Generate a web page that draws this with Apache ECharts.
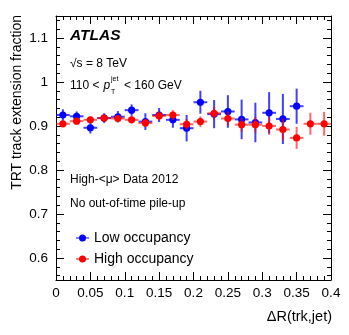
<!DOCTYPE html>
<html>
<head>
<meta charset="utf-8">
<script src="https://cdn.jsdelivr.net/npm/echarts@6/dist/echarts.min.js"></script>
<style>
  html, body { margin: 0; padding: 0; background: #fff; }
  #chart { width: 349px; height: 335px; }
</style>
</head>
<body>
<div id="chart"></div>
<script>
// bin centres in dR(trk,jet), bins are 0.02 wide
var binCenters = [0.01, 0.03, 0.05, 0.07, 0.09, 0.11, 0.13, 0.15, 0.17, 0.19,
                  0.21, 0.23, 0.25, 0.27, 0.29, 0.31, 0.33, 0.35, 0.37, 0.39];
var binHalfWidth = 0.01;

// low occupancy (blue) - first 18 bins
var lowValues = [0.925, 0.922, 0.896, 0.918, 0.921, 0.936, 0.910, 0.925, 0.914, 0.895,
                 0.954, 0.927, 0.933, 0.915, 0.908, 0.930, 0.916, 0.945];
var lowErrors = [0.013, 0.011, 0.013, 0.011, 0.013, 0.013, 0.019, 0.016, 0.018, 0.030,
                 0.026, 0.032, 0.037, 0.045, 0.045, 0.047, 0.057, 0.040];

// high occupancy (red) - all 20 bins
var highValues = [0.905, 0.911, 0.914, 0.918, 0.917, 0.914, 0.907, 0.923, 0.925, 0.904,
                  0.910, 0.929, 0.917, 0.903, 0.903, 0.900, 0.892, 0.873, 0.905, 0.905];
var highErrors = [0.007, 0.007, 0.007, 0.008, 0.008, 0.008, 0.009, 0.010, 0.011, 0.011,
                  0.012, 0.014, 0.016, 0.016, 0.018, 0.020, 0.025, 0.025, 0.025, 0.027];

var yLabelTicks = [0.6, 0.7, 0.8, 0.9, 1.0, 1.1];
var yMinorTicks = [];
for (var t = 56; t <= 114; t += 2) {
	if (t % 10 != 0) yMinorTicks.push(t / 100);
}

var FONT = '"Liberation Sans", Arial, Helvetica, sans-serif';

function makeData(vals, errs) {
	var out = [];
	for (var i = 0; i < vals.length; i++) {
		out.push([binCenters[i], vals[i], errs[i]]);
	}
	return out;
}

function errRenderer(color, barOpacity) {
	return function(params, api) {
		var x = api.value(0), y = api.value(1), e = api.value(2);
		var c = api.coord([x, y]);
		var lo = api.coord([x, y - e]);
		var hi = api.coord([x, y + e]);
		var l = api.coord([x - binHalfWidth, y]);
		var r = api.coord([x + binHalfWidth, y]);
		return {
			type: 'group',
			children: [
				{ type: 'line', shape: { x1: lo[0], y1: lo[1], x2: hi[0], y2: hi[1] },
				  style: { stroke: color, lineWidth: 2, opacity: barOpacity } },
				{ type: 'line', shape: { x1: l[0], y1: l[1], x2: r[0], y2: r[1] },
				  style: { stroke: color, lineWidth: 2, opacity: barOpacity } },
				{ type: 'circle', shape: { cx: c[0], cy: c[1], r: 3.6 },
				  style: { fill: color } }
			]
		};
	};
}

var legendIcon = 'path://M0,6H26V8H0Z M20,7A7,7 0 1,1 6,7A7,7 0 1,1 20,7Z';

function yAxisDef(pos, ticks, len, withLine, withLabels) {
	return {
		type: 'value', position: pos, min: 0.55, max: 1.15,
		axisLine: { show: withLine, lineStyle: { color: '#000', width: 1 } },
		axisTick: { show: true, inside: true, length: len, customValues: ticks,
		            lineStyle: { color: '#000', width: 1 } },
		axisLabel: { show: withLabels, customValues: yLabelTicks, margin: 8,
		             color: '#000', fontSize: 13.5, fontFamily: FONT },
		splitLine: { show: false }
	};
}

function xAxisDef(pos, withLabels) {
	return {
		type: 'value', position: pos, min: 0, max: 0.4, interval: 0.05,
		axisLine: { show: true, onZero: false, lineStyle: { color: '#000', width: 1 } },
		axisTick: { show: true, inside: true, length: 8, lineStyle: { color: '#000' } },
		minorTick: { show: true, splitNumber: 5, length: 4, lineStyle: { color: '#000' } },
		axisLabel: { show: withLabels, margin: 6, color: '#000', fontSize: 13.5,
		             fontFamily: FONT, showMinLabel: true, showMaxLabel: true },
		splitLine: { show: false }
	};
}

var myChart = echarts.init(document.getElementById('chart'), null, { renderer: 'canvas' });

var option = {
	animation: false,
	backgroundColor: '#fff',
	grid: { left: 56, right: 18, top: 16, bottom: 55, containLabel: false },
	xAxis: [ xAxisDef('bottom', true), xAxisDef('top', false) ],
	yAxis: [
		yAxisDef('left', yLabelTicks, 8, true, true),
		yAxisDef('left', yMinorTicks, 4, false, false),
		yAxisDef('right', yLabelTicks, 8, true, false),
		yAxisDef('right', yMinorTicks, 4, false, false)
	],
	legend: {
		orient: 'vertical', left: 71, top: 226, itemGap: 7,
		itemWidth: 13, itemHeight: 7,
		textStyle: { color: '#000', fontSize: 14, fontFamily: FONT },
		data: [
			{ name: 'Low occupancy', icon: legendIcon },
			{ name: 'High occupancy', icon: legendIcon }
		]
	},
	series: [
		{
			name: 'Low occupancy', type: 'custom', xAxisIndex: 0, yAxisIndex: 0,
			itemStyle: { color: '#0000ff' },
			renderItem: errRenderer('#0000ff', 0.75),
			data: makeData(lowValues, lowErrors)
		},
		{
			name: 'High occupancy', type: 'custom', xAxisIndex: 0, yAxisIndex: 0,
			itemStyle: { color: '#ff0000' },
			renderItem: errRenderer('#ff0000', 0.6),
			data: makeData(highValues, highErrors)
		}
	],
	graphic: [
		{ type: 'text', left: 70, top: 28,
		  style: { text: 'ATLAS', font: 'italic bold 15.5px ' + FONT, fill: '#000' } },
		{ type: 'text', left: 70, top: 58,
		  style: { text: '\u221As = 8 TeV', font: '12px ' + FONT, fill: '#000' } },
		{ type: 'text', left: 70, top: 80,
		  style: { text: '110 <', font: '12px ' + FONT, fill: '#000' } },
		{ type: 'text', left: 103.5, top: 80,
		  style: { text: 'p', font: 'italic 12px ' + FONT, fill: '#000' } },
		{ type: 'text', left: 111, top: 76,
		  style: { text: 'jet', font: '7px ' + FONT, fill: '#000' } },
		{ type: 'text', left: 111, top: 89,
		  style: { text: 'T', font: '7px ' + FONT, fill: '#000' } },
		{ type: 'text', left: 124, top: 80,
		  style: { text: '< 160 GeV', font: '12px ' + FONT, fill: '#000' } },
		{ type: 'text', left: 70, top: 174,
		  style: { text: 'High-<\u03BC> Data 2012', font: '12px ' + FONT, fill: '#000' } },
		{ type: 'text', left: 70, top: 198,
		  style: { text: 'No out-of-time pile-up', font: '12px ' + FONT, fill: '#000' } },
		{ type: 'text', x: 17, y: 15, rotation: Math.PI / 2,
		  style: { text: 'TRT track extension fraction', font: '14px ' + FONT, fill: '#000',
		           align: 'right', verticalAlign: 'middle' } },
		{ type: 'text', x: 332, y: 317,
		  style: { text: '\u0394R(trk,jet)', font: '14.5px ' + FONT, fill: '#000',
		           align: 'right', verticalAlign: 'middle' } }
	]
};

myChart.setOption(option);
</script>
</body>
</html>
